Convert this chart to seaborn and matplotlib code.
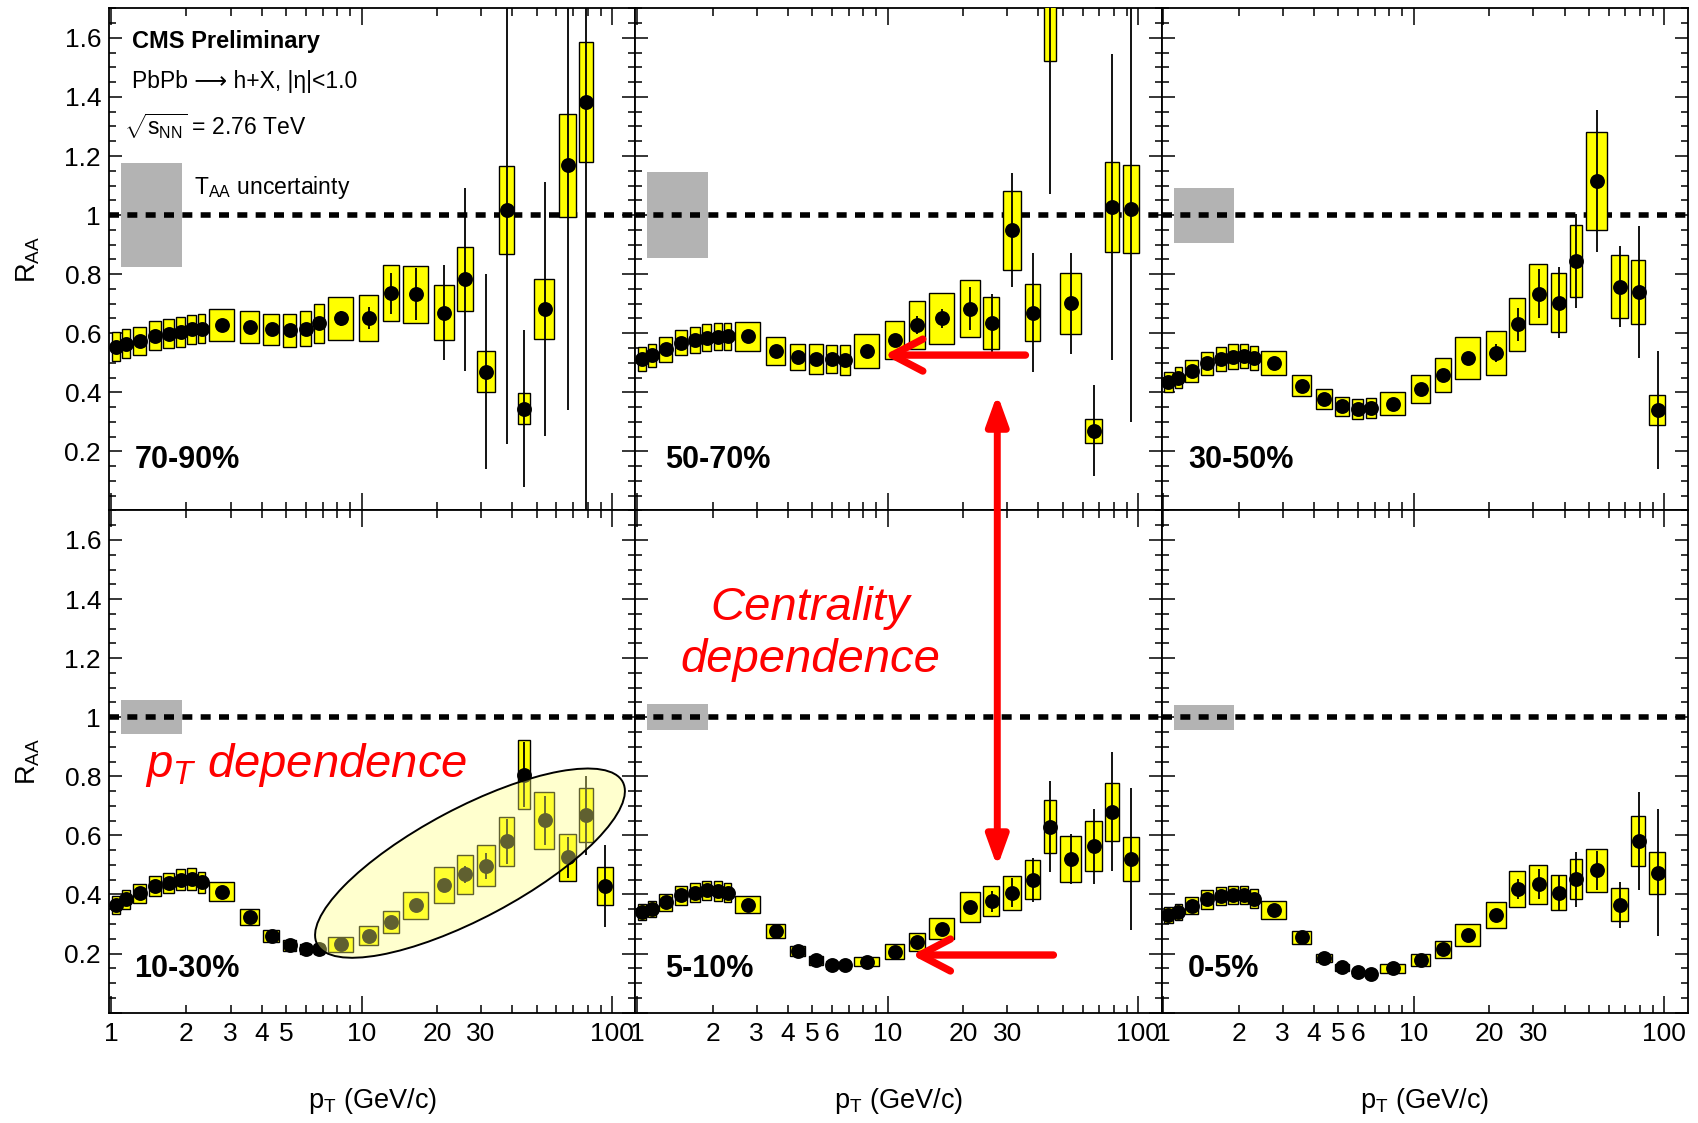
import numpy as np
import pandas as pd
import matplotlib
matplotlib.use("Agg")
import matplotlib.pyplot as plt
import seaborn as sns
from matplotlib.ticker import FuncFormatter, LogLocator, FixedLocator, MultipleLocator
from matplotlib.patches import Ellipse, ConnectionPatch

# ---------------------------------------------------------------- data
# pT binning (GeV/c) and the mean pT of each bin
pt_bin_edges = [1.0, 1.1, 1.2, 1.4, 1.6, 1.8, 2.0, 2.2, 2.4, 3.2, 4.0, 4.8, 5.6,
                6.4, 7.2, 9.6, 12.0, 14.4, 19.2, 24.0, 28.8, 35.2, 41.6, 48.0,
                60.8, 73.6, 86.4, 103.6]
pt_values = [1.05, 1.15, 1.30, 1.50, 1.70, 1.90, 2.10, 2.30, 2.78, 3.58, 4.38,
             5.18, 5.98, 6.78, 8.30, 10.7, 13.1, 16.5, 21.4, 26.0, 31.5, 38.0,
             44.5, 53.8, 66.5, 79.0, 94.0]

centrality_labels = ["70-90%", "50-70%", "30-50%", "10-30%", "5-10%", "0-5%"]

raa_70_90 = [0.555, 0.565, 0.574, 0.591, 0.599, 0.604, 0.613, 0.616, 0.627, 0.621,
             0.613, 0.610, 0.616, 0.633, 0.650, 0.653, 0.735, 0.732, 0.670, 0.783,
             0.470, 1.016, 0.345, 0.683, 1.169, 1.383]
sys_70_90 = [0.048, 0.048, 0.048, 0.049, 0.050, 0.050, 0.050, 0.050, 0.054, 0.053,
             0.052, 0.055, 0.060, 0.065, 0.073, 0.078, 0.095, 0.097, 0.093, 0.108,
             0.069, 0.149, 0.052, 0.102, 0.174, 0.202]
stat_70_90 = [0.008, 0.008, 0.008, 0.008, 0.008, 0.008, 0.008, 0.008, 0.010, 0.010,
              0.012, 0.013, 0.015, 0.018, 0.025, 0.037, 0.070, 0.088, 0.160, 0.310,
              0.330, 0.790, 0.265, 0.430, 0.830, 1.450]

raa_50_70 = [0.512, 0.525, 0.546, 0.568, 0.577, 0.585, 0.588, 0.589, 0.589, 0.540,
             0.520, 0.512, 0.512, 0.509, 0.540, 0.577, 0.627, 0.651, 0.683, 0.634,
             0.949, 0.670, 1.950, 0.701, 0.270, 1.028, 1.019]
sys_50_70 = [0.040, 0.040, 0.042, 0.043, 0.044, 0.045, 0.045, 0.045, 0.050, 0.046,
             0.045, 0.050, 0.048, 0.050, 0.058, 0.065, 0.082, 0.086, 0.096, 0.088,
             0.134, 0.095, 0.430, 0.103, 0.040, 0.153, 0.149]
stat_50_70 = [0.006, 0.006, 0.006, 0.006, 0.006, 0.006, 0.006, 0.006, 0.008, 0.008,
              0.009, 0.010, 0.012, 0.014, 0.018, 0.022, 0.030, 0.032, 0.073, 0.100,
              0.193, 0.200, 0.880, 0.171, 0.155, 0.517, 0.720]

raa_30_50 = [0.435, 0.450, 0.472, 0.498, 0.514, 0.521, 0.523, 0.515, 0.498, 0.422,
             0.377, 0.352, 0.345, 0.348, 0.362, 0.411, 0.459, 0.515, 0.532, 0.630,
             0.734, 0.704, 0.844, 1.115, 0.758, 0.740, 0.340]
sys_30_50 = [0.034, 0.035, 0.037, 0.040, 0.041, 0.041, 0.041, 0.041, 0.041, 0.035,
             0.034, 0.031, 0.034, 0.034, 0.038, 0.048, 0.058, 0.071, 0.075, 0.089,
             0.102, 0.100, 0.123, 0.165, 0.108, 0.109, 0.051]
stat_30_50 = [0.005, 0.005, 0.005, 0.005, 0.005, 0.005, 0.005, 0.005, 0.006, 0.006,
              0.006, 0.007, 0.008, 0.009, 0.010, 0.012, 0.016, 0.020, 0.030, 0.056,
              0.083, 0.120, 0.160, 0.240, 0.137, 0.224, 0.200]

raa_10_30 = [0.365, 0.383, 0.404, 0.429, 0.439, 0.450, 0.452, 0.441, 0.409, 0.324,
             0.260, 0.228, 0.214, 0.215, 0.231, 0.260, 0.307, 0.363, 0.432, 0.468,
             0.497, 0.580, 0.805, 0.651, 0.526, 0.668, 0.429]
sys_10_30 = [0.030, 0.031, 0.033, 0.034, 0.035, 0.036, 0.036, 0.035, 0.032, 0.026,
             0.021, 0.018, 0.017, 0.018, 0.025, 0.032, 0.038, 0.047, 0.061, 0.067,
             0.070, 0.083, 0.117, 0.096, 0.079, 0.092, 0.064]
stat_10_30 = [0.004, 0.004, 0.004, 0.004, 0.004, 0.004, 0.004, 0.004, 0.005, 0.005,
              0.005, 0.005, 0.005, 0.006, 0.007, 0.008, 0.010, 0.014, 0.020, 0.030,
              0.045, 0.076, 0.110, 0.083, 0.070, 0.134, 0.138]

raa_5_10 = [0.342, 0.350, 0.373, 0.397, 0.406, 0.414, 0.412, 0.406, 0.365, 0.276,
            0.208, 0.177, 0.161, 0.161, 0.173, 0.206, 0.240, 0.284, 0.359, 0.377,
            0.406, 0.450, 0.630, 0.520, 0.563, 0.680, 0.520]
sys_5_10 = [0.027, 0.028, 0.030, 0.032, 0.032, 0.033, 0.033, 0.032, 0.029, 0.024,
            0.017, 0.015, 0.013, 0.013, 0.016, 0.026, 0.030, 0.035, 0.051, 0.051,
            0.058, 0.066, 0.091, 0.079, 0.084, 0.099, 0.075]
stat_5_10 = [0.004, 0.004, 0.004, 0.004, 0.004, 0.004, 0.004, 0.004, 0.005, 0.005,
             0.005, 0.005, 0.005, 0.005, 0.006, 0.008, 0.010, 0.013, 0.018, 0.035,
             0.050, 0.074, 0.154, 0.083, 0.126, 0.201, 0.239]

raa_0_5 = [0.330, 0.340, 0.362, 0.383, 0.394, 0.398, 0.398, 0.386, 0.348, 0.255,
           0.185, 0.153, 0.136, 0.132, 0.150, 0.177, 0.214, 0.263, 0.330, 0.418,
           0.435, 0.406, 0.452, 0.482, 0.365, 0.580, 0.473]
sys_0_5 = [0.026, 0.027, 0.029, 0.031, 0.031, 0.032, 0.032, 0.031, 0.030, 0.022,
           0.015, 0.012, 0.011, 0.011, 0.016, 0.020, 0.028, 0.037, 0.045, 0.061,
           0.066, 0.059, 0.068, 0.072, 0.056, 0.085, 0.072]
stat_0_5 = [0.004, 0.004, 0.004, 0.004, 0.004, 0.004, 0.004, 0.004, 0.004, 0.005,
            0.005, 0.005, 0.005, 0.005, 0.005, 0.006, 0.008, 0.010, 0.015, 0.035,
            0.052, 0.057, 0.093, 0.066, 0.078, 0.166, 0.215]

# normalisation (T_AA) uncertainty around unity, per centrality class
taa_uncertainty = [0.175, 0.145, 0.093, 0.058, 0.044, 0.043]

x_ticklabels_first = [1, 2, 3, 4, 5, 10, 20, 30, 100]
x_ticklabels_other = [1, 2, 3, 4, 5, 6, 10, 20, 30, 100]

# ---------------------------------------------------------------- frame
series = [(raa_70_90, sys_70_90, stat_70_90), (raa_50_70, sys_50_70, stat_50_70),
          (raa_30_50, sys_30_50, stat_30_50), (raa_10_30, sys_10_30, stat_10_30),
          (raa_5_10, sys_5_10, stat_5_10), (raa_0_5, sys_0_5, stat_0_5)]
rows = []
for cent, (raa, sys_, stat) in zip(centrality_labels, series):
    for i, (v, s, e) in enumerate(zip(raa, sys_, stat)):
        rows.append(dict(centrality=cent, pt=pt_values[i], raa=v, sys=s, stat=e,
                         bin_lo=pt_bin_edges[i], bin_hi=pt_bin_edges[i + 1]))
df = pd.DataFrame(rows)

# ---------------------------------------------------------------- style
sns.set_theme(style="ticks")
plt.rcParams["font.family"] = ["Liberation Sans", "DejaVu Sans"]
plt.rcParams["mathtext.fontset"] = "custom"
plt.rcParams["mathtext.rm"] = "Liberation Sans"
plt.rcParams["mathtext.it"] = "Liberation Sans:italic"
plt.rcParams["mathtext.bf"] = "Liberation Sans:bold"
for key in ["text.color", "axes.labelcolor", "xtick.color", "ytick.color", "axes.edgecolor"]:
    plt.rcParams[key] = "black"
plt.rcParams["axes.linewidth"] = 1.3

YELLOW = "#ffff00"
GREY = "#b3b3b3"
RED = "#ff0000"
BOX_FRACTION = 0.8

fig, axes = plt.subplots(2, 3, figsize=(16.98, 11.23), dpi=100)
fig.subplots_adjust(left=0.0644, right=0.9939, bottom=0.0983, top=0.9926,
                    wspace=0, hspace=0)


def label_formatter(values):
    def fmt(v, pos):
        for t in values:
            if abs(v - t) < 1e-6 * t:
                return f"{t:g}"
        return ""
    return FuncFormatter(fmt)


label_x = [0.048, 0.057, 0.050, 0.047, 0.057, 0.050]
for k, (ax, cent) in enumerate(zip(axes.flat, centrality_labels)):
    row, col = divmod(k, 3)
    sub = df[df.centrality == cent]
    ax.set_xscale("log")
    ax.set_xlim(0.985, 124)
    ax.set_ylim(0, 1.7)

    # normalisation uncertainty band and unity reference
    ax.bar(1.1, 2 * taa_uncertainty[k], width=0.82, bottom=1 - taa_uncertainty[k],
           align="edge", color=GREY, linewidth=0, zorder=1)
    ax.axhline(1.0, color="black", lw=4, dashes=(1.8, 1.5), zorder=2)

    # systematic boxes
    half = BOX_FRACTION / 2 * (sub.bin_hi - sub.bin_lo)
    ax.bar(sub.pt - half, 2 * sub.sys, width=2 * half, bottom=sub.raa - sub.sys,
           align="edge", color=YELLOW, edgecolor="black", linewidth=1.0, zorder=3)
    # statistical errors
    ax.vlines(sub.pt, sub.raa - sub.stat, sub.raa + sub.stat, color="black",
              lw=1.3, zorder=4)
    sns.scatterplot(data=sub, x="pt", y="raa", ax=ax, color="black", s=115,
                    linewidth=0, zorder=5, legend=False)

    # axes cosmetics
    ax.xaxis.set_major_locator(FixedLocator([1, 10, 100]))
    ax.xaxis.set_minor_locator(LogLocator(base=10, subs=np.arange(2, 10), numticks=20))
    labels = x_ticklabels_first if col == 0 else x_ticklabels_other
    ax.xaxis.set_major_formatter(label_formatter(labels))
    ax.xaxis.set_minor_formatter(label_formatter(labels))
    ax.yaxis.set_major_locator(MultipleLocator(0.2))
    ax.yaxis.set_minor_locator(MultipleLocator(0.05))
    ax.yaxis.set_major_formatter(FuncFormatter(lambda v, p: "" if abs(v) < 1e-9 else f"{v:g}"))
    ax.tick_params(axis="both", which="both", direction="in", top=True, right=True,
                   width=1.1, labelsize=19)
    ax.tick_params(axis="x", which="major", length=12, pad=7)
    ax.tick_params(axis="x", which="minor", length=6, pad=7)
    ax.tick_params(axis="y", which="major", length=9.5, pad=6)
    ax.tick_params(axis="y", which="minor", length=5)
    ax.tick_params(labelbottom=(row == 1), labelleft=(col == 0))
    for sp in ax.spines.values():
        sp.set_visible(True)
        sp.set_linewidth(1.3)

    if row == 1:
        ax.set_xlabel(r"p$_{\mathrm{T}}$ (GeV/c)", fontsize=19.5)
        ax.xaxis.set_label_coords(0.5, -0.177)
        ax.xaxis.label.set_va("center")
    else:
        ax.set_xlabel("")
    if col == 0:
        ax.set_ylabel(r"R$_{\mathrm{AA}}$", fontsize=19.5)
        ax.yaxis.set_label_coords(-0.155, 0.5)
        ax.yaxis.label.set_va("center")
    else:
        ax.set_ylabel("")

    ax.text(label_x[k], 0.0997 if row == 0 else 0.086, cent, transform=ax.transAxes,
            fontsize=22, fontweight="bold", ha="left", va="center", zorder=8)

# header text in the most peripheral panel
ax0 = axes[0, 0]
ax0.text(0.044, 0.933, "CMS Preliminary", transform=ax0.transAxes, fontsize=17,
         fontweight="bold", ha="left", va="center")
ax0.text(0.044, 0.854, "PbPb \u27f6 h+X, |\u03b7|<1.0", transform=ax0.transAxes,
         fontsize=16.5, ha="left", va="center")
ax0.text(0.028, 0.766, r"$\sqrt{\mathrm{s}_{\mathrm{NN}}}$ = 2.76 TeV",
         transform=ax0.transAxes, fontsize=16.5, ha="left", va="center")
ax0.text(0.161, 0.644, r"T$_{\mathrm{AA}}$ uncertainty", transform=ax0.transAxes,
         fontsize=16.5, ha="left", va="center")

# ---------------------------------------------------------------- annotations
ax_pt = axes[1, 0]
ax_pt.text(0.068, 0.470, r"$p_T$ dependence", transform=ax_pt.transAxes,
           fontsize=34, style="italic", color=RED, ha="left", va="baseline", zorder=10)

axes[1, 1].text(0.333, 0.754, "Centrality\ndependence", transform=axes[1, 1].transAxes,
                fontsize=34, style="italic", color=RED, ha="center", va="center",
                linespacing=1.22, zorder=10)

# highlight of the rising high-pT part in 10-30%
fig.canvas.draw()
cx, cy = ax_pt.transData.transform((27.1, 0.506)) / fig.dpi
ell = Ellipse((cx, cy), width=3.46, height=1.10, angle=28,
              transform=fig.dpi_scale_trans, facecolor="#ffff80", alpha=0.38,
              edgecolor="none", zorder=6)
ell_edge = Ellipse((cx, cy), width=3.46, height=1.10, angle=28,
                   transform=fig.dpi_scale_trans, facecolor="none",
                   edgecolor="black", lw=1.4, zorder=6)
fig.add_artist(ell)
fig.add_artist(ell_edge)

open_head = "->,head_length=22,head_width=11.5"
axes[0, 1].annotate("", xy=(9.7, 0.526), xytext=(35.5, 0.526),
                    arrowprops=dict(arrowstyle=open_head, mutation_scale=1, color=RED,
                                    lw=5.3, shrinkA=0, shrinkB=0, capstyle="round",
                                    joinstyle="round"), zorder=10)
axes[1, 1].annotate("", xy=(12.5, 0.195), xytext=(45.9, 0.195),
                    arrowprops=dict(arrowstyle=open_head, mutation_scale=1, color=RED,
                                    lw=5.3, shrinkA=0, shrinkB=0, capstyle="round",
                                    joinstyle="round"), zorder=10)

vertical = ConnectionPatch(xyA=(27.4, 0.394), coordsA=axes[0, 1].transData,
                           xyB=(27.4, 0.493), coordsB=axes[1, 1].transData,
                           arrowstyle="<|-|>,head_length=18,head_width=6.5",
                           mutation_scale=1, color=RED, lw=5, shrinkA=0, shrinkB=0,
                           zorder=10)
fig.add_artist(vertical)

fig.savefig("out.png", dpi=100)
